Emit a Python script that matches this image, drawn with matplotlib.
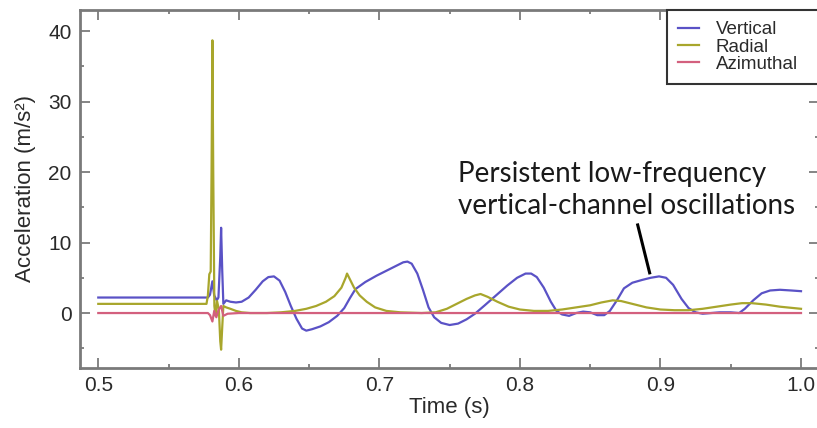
import matplotlib
matplotlib.use('Agg')
import matplotlib.pyplot as plt
from matplotlib.ticker import MultipleLocator

# Vertical channel (time s, acceleration m/s^2)
vert_t = [0.500, 0.578, 0.5795, 0.5812, 0.5825, 0.5843, 0.5855, 0.5868, 0.5874, 0.5882,
          0.589, 0.591, 0.594, 0.598, 0.602, 0.607, 0.612, 0.617, 0.621, 0.625,
          0.629, 0.633, 0.637, 0.641, 0.645, 0.648, 0.652, 0.658, 0.664, 0.670,
          0.675, 0.679, 0.683, 0.690, 0.698, 0.706, 0.712, 0.717, 0.720, 0.723,
          0.727, 0.731, 0.735, 0.739, 0.744, 0.750, 0.756, 0.762, 0.768, 0.775,
          0.783, 0.791, 0.798, 0.804, 0.808, 0.812, 0.817, 0.822, 0.826, 0.830,
          0.835, 0.840, 0.845, 0.850, 0.855, 0.860, 0.864, 0.869, 0.874, 0.880,
          0.887, 0.893, 0.899, 0.904, 0.909, 0.915, 0.920, 0.925, 0.930, 0.936,
          0.942, 0.950, 0.956, 0.960, 0.966, 0.972, 0.978, 0.985, 0.993, 1.000]
vert_a = [2.2, 2.2, 2.6, 4.5, 2.5, 1.8, 2.2, 8.0, 12.1, 6.0,
          1.3, 1.8, 1.6, 1.5, 1.6, 2.2, 3.3, 4.5, 5.1, 5.2,
          4.6, 3.0, 1.0, -0.8, -2.2, -2.5, -2.3, -1.9, -1.3, -0.4,
          0.7, 2.1, 3.4, 4.4, 5.3, 6.1, 6.7, 7.2, 7.3, 7.0,
          5.6, 3.3, 0.8, -0.6, -1.4, -1.7, -1.5, -0.9, -0.1, 1.1,
          2.5, 3.9, 5.0, 5.6, 5.6, 5.1, 3.6, 1.6, 0.3, -0.2,
          -0.4, 0.0, 0.2, 0.1, -0.3, -0.3, 0.3, 1.8, 3.5, 4.3,
          4.7, 5.0, 5.2, 5.0, 4.0, 2.0, 0.7, 0.1, -0.1, 0.0,
          0.1, 0.1, 0.0, 0.6, 1.8, 2.8, 3.2, 3.3, 3.2, 3.1]

# Radial channel
rad_t = [0.500, 0.577, 0.578, 0.5790, 0.5800, 0.5806, 0.5812, 0.5818, 0.5826, 0.5834,
         0.5845, 0.5858, 0.5868, 0.5874, 0.5882, 0.589, 0.591, 0.594, 0.598, 0.602,
         0.608, 0.620, 0.630, 0.640, 0.648, 0.655, 0.662, 0.668, 0.673, 0.676,
         0.677, 0.679, 0.682, 0.686, 0.691, 0.697, 0.705, 0.715, 0.730, 0.740,
         0.748, 0.755, 0.762, 0.768, 0.772, 0.777, 0.784, 0.792, 0.800, 0.810,
         0.820, 0.830, 0.840, 0.850, 0.858, 0.866, 0.872, 0.880, 0.890, 0.900,
         0.910, 0.920, 0.930, 0.940, 0.950, 0.958, 0.965, 0.975, 0.985, 1.000]
rad_a = [1.3, 1.3, 2.5, 5.5, 5.9, 20.0, 38.7, 20.0, 1.0, -0.4,
         1.7, 0.5, -4.0, -5.2, -2.0, 1.0, 0.8, 0.6, 0.3, 0.1,
         0.0, 0.0, 0.1, 0.3, 0.6, 1.0, 1.6, 2.4, 3.6, 5.0,
         5.6, 4.8, 3.6, 2.5, 1.6, 0.8, 0.3, 0.1, 0.0, 0.1,
         0.6, 1.3, 2.0, 2.5, 2.7, 2.3, 1.6, 0.9, 0.5, 0.3,
         0.3, 0.5, 0.8, 1.1, 1.5, 1.8, 1.7, 1.3, 0.8, 0.5,
         0.4, 0.4, 0.6, 0.9, 1.2, 1.4, 1.4, 1.2, 0.9, 0.6]

# Azimuthal channel
azi_t = [0.500, 0.578, 0.5795, 0.5812, 0.5825, 0.5840, 0.5855, 0.5874, 0.589, 0.592, 0.600, 1.000]
azi_a = [0.0, 0.0, -0.3, -1.2, 0.3, -0.6, 0.4, 1.0, -0.4, -0.1, 0.0, 0.0]

W, H = 817, 428
fig = plt.figure(figsize=(W / 100, H / 100), dpi=100)
ax = fig.add_axes([80 / W, 1 - 368 / H, 739 / W, 358 / H])

ax.plot(vert_t, vert_a, color='#5a52c6', lw=1.6, label='Vertical')
ax.plot(rad_t, rad_a, color='#a8a62c', lw=1.6, label='Radial')
ax.plot(azi_t, azi_a, color='#d3607e', lw=1.6, label='Azimuthal')

ax.set_xlim(0.487, 1.0128)
ax.set_ylim(-7.8, 43)
ax.xaxis.set_major_locator(MultipleLocator(0.1))
ax.xaxis.set_minor_locator(MultipleLocator(0.05))
ax.yaxis.set_major_locator(MultipleLocator(10))
ax.yaxis.set_minor_locator(MultipleLocator(5))
ax.xaxis.set_major_formatter(lambda v, p: f'{v:.1f}')

tick_font = 'Liberation Sans'
ax.tick_params(which='both', direction='in', top=True, right=True,
               color='#707070', width=1.2, labelsize=15, labelcolor='#2a2a2a')
ax.tick_params(which='major', length=7, pad=6)
ax.tick_params(which='minor', length=3)
for lab in ax.get_xticklabels() + ax.get_yticklabels():
    lab.set_fontfamily(tick_font)
for s in ax.spines.values():
    s.set_color('#7a7a7a')
    s.set_linewidth(2)

ax.set_xlabel('Time (s)', fontsize=16, family=tick_font, color='#2a2a2a', labelpad=1)
ax.set_ylabel('Acceleration (m/s²)', fontsize=16, family=tick_font, color='#2a2a2a', labelpad=9)

# legend frame runs past the right edge of the picture
leg = ax.legend(loc='upper left', bbox_to_anchor=(667 / W, 1 - 90 / H, 170 / W, 80 / H),
                bbox_transform=fig.transFigure, borderaxespad=0, mode='expand',
                prop={'family': tick_font, 'size': 13.5}, handlelength=1.1,
                labelspacing=0.0, handletextpad=0.9, borderpad=0.6,
                fancybox=False, framealpha=1)
leg.get_frame().set_edgecolor('#333333')
leg.get_frame().set_linewidth(1.5)
for t in leg.get_texts():
    t.set_color('#2a2a2a')

ax.text(0.7559, 17.5, 'Persistent low-frequency\nvertical-channel oscillations',
        fontsize=20, family='Lato', color='#1a1a1a', ha='left', va='center',
        linespacing=1.3)
ax.plot([0.8838, 0.8923], [12.5, 5.7], color='black', lw=2.2)

fig.savefig('out.png', dpi=100)
